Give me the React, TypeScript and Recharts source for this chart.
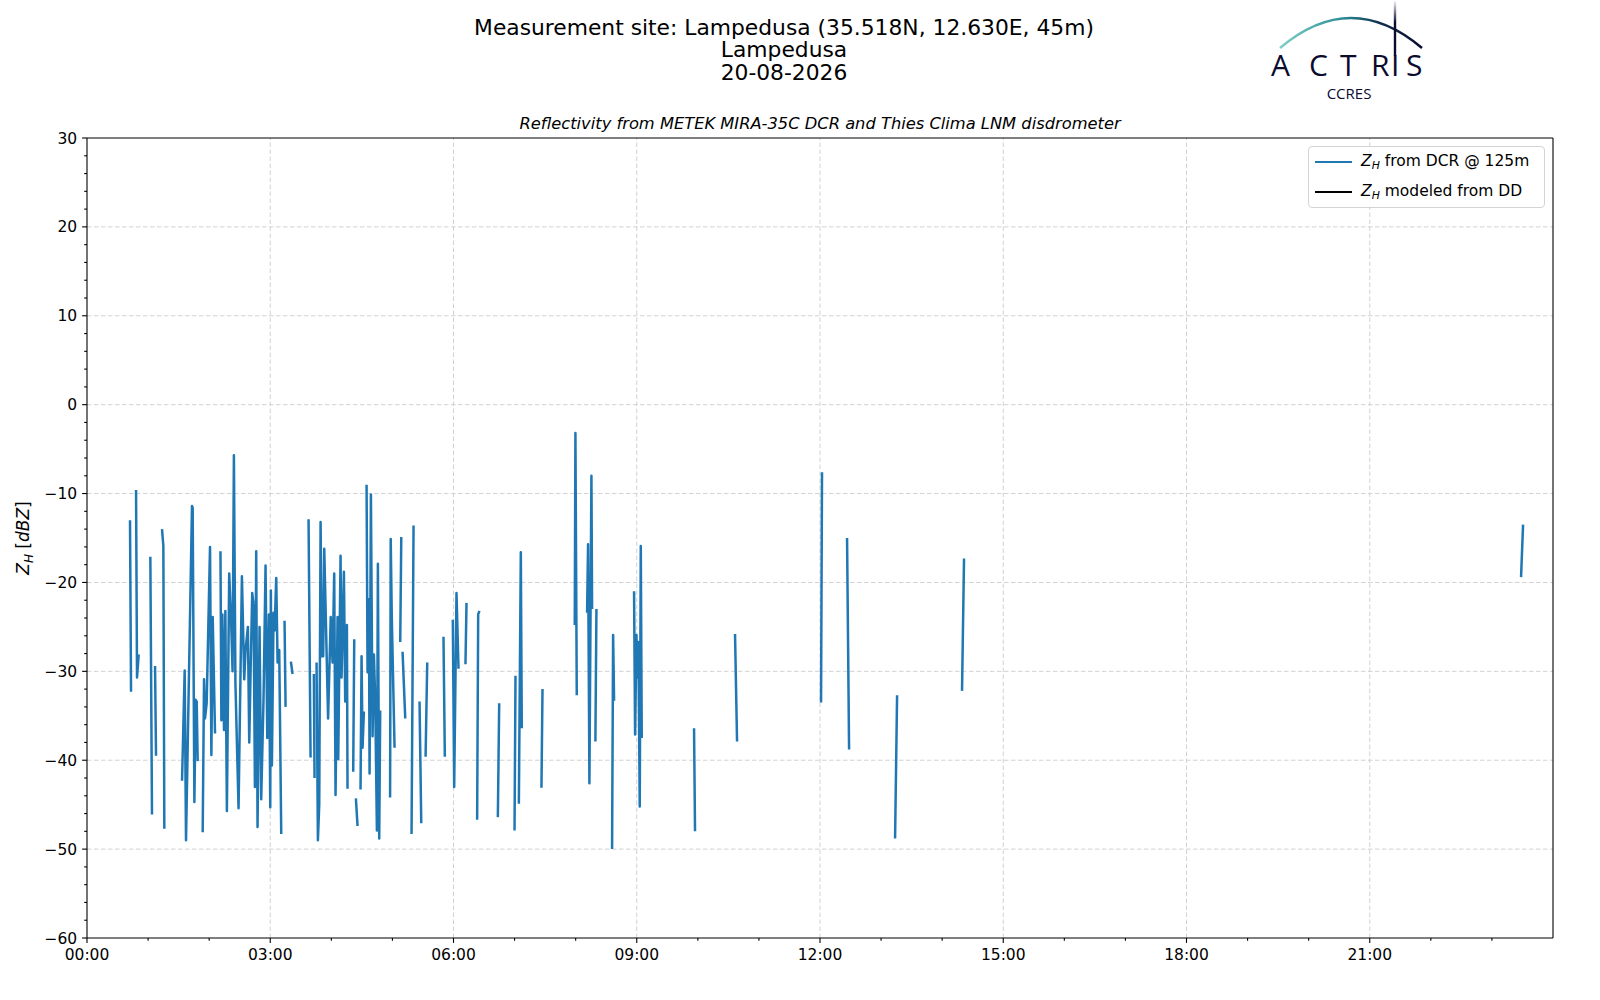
import React from 'react'
import { LineChart, Line, XAxis, YAxis, ReferenceLine } from 'recharts'

// Z_H from the DCR at 125 m. Each run is a stretch of valid samples,
// as [hour of day, dBZ]. Gaps between runs are left open.
const dcrRuns: [number, number][][] = [
  [[0.704, -13.0], [0.721, -32.3]],
  [[0.803, -9.6], [0.819, -30.7], [0.846, -28.1]],
  [[1.037, -17.1], [1.064, -46.1]],
  [[1.114, -29.4], [1.130, -39.5]],
  [[1.228, -14.0], [1.250, -15.9], [1.266, -47.7]],
  [[1.556, -42.3], [1.599, -29.9], [1.621, -49.0], [1.719, -11.4], [1.730, -11.6],
   [1.758, -44.7], [1.779, -33.2], [1.796, -33.4], [1.812, -40.1]],
  [[1.894, -48.1], [1.916, -30.9], [1.932, -35.3], [1.959, -33.6], [2.014, -16.0],
   [2.036, -39.4], [2.058, -23.9], [2.096, -37.0]],
  [[2.185, -16.5], [2.200, -35.5], [2.216, -23.6], [2.243, -36.6], [2.265, -23.2],
   [2.290, -45.7], [2.328, -19.0], [2.361, -24.7], [2.383, -30.0], [2.405, -5.7],
   [2.430, -31.4], [2.454, -38.0], [2.481, -45.4], [2.536, -19.3], [2.574, -30.9],
   [2.596, -27.6], [2.634, -25.0], [2.656, -38.0], [2.678, -30.1], [2.705, -21.2],
   [2.727, -22.5], [2.749, -43.0], [2.770, -16.5], [2.792, -47.5], [2.825, -25.0],
   [2.852, -44.4], [2.890, -33.1], [2.923, -18.1], [2.951, -37.5], [2.978, -23.6],
   [3.000, -45.3], [3.010, -20.9], [3.027, -40.6], [3.054, -23.4], [3.071, -25.4],
   [3.098, -19.5], [3.120, -29.0], [3.147, -27.6], [3.180, -48.3]],
  [[3.234, -24.3], [3.251, -34.0]],
  [[3.338, -28.9], [3.365, -30.3]],
  [[3.627, -12.9], [3.660, -39.7]],
  [[3.714, -30.3], [3.725, -42.0]],
  [[3.758, -29.0], [3.780, -49.0], [3.802, -45.0], [3.824, -13.2], [3.845, -28.3],
   [3.867, -28.3], [3.884, -16.2], [3.947, -35.3], [3.990, -23.9], [4.020, -29.0],
   [4.047, -19.0], [4.069, -43.9], [4.102, -23.9], [4.113, -39.9], [4.151, -17.0],
   [4.167, -30.7], [4.206, -18.8], [4.227, -33.4], [4.255, -24.8], [4.265, -43.2]],
  [[4.358, -41.3], [4.375, -26.4]],
  [[4.402, -44.3], [4.429, -47.4]],
  [[4.478, -43.3], [4.495, -28.3], [4.511, -38.6], [4.533, -34.5]],
  [[4.577, -9.0], [4.593, -30.1], [4.615, -21.9], [4.626, -41.5], [4.648, -10.1],
   [4.675, -37.3], [4.697, -28.1], [4.719, -33.4], [4.746, -47.9], [4.762, -17.9],
   [4.784, -48.8], [4.800, -34.4]],
  [[4.962, -44.2], [4.972, -15.1], [4.990, -24.0], [5.035, -38.6]],
  [[5.128, -26.7], [5.145, -14.9]],
  [[5.166, -27.8], [5.210, -35.3]],
  [[5.313, -48.3], [5.346, -13.6]],
  [[5.444, -33.4], [5.472, -47.1]],
  [[5.543, -39.6], [5.570, -29.0]],
  [[5.836, -26.1], [5.858, -39.6]],
  [[5.989, -24.2], [6.011, -43.0], [6.049, -21.2], [6.082, -29.7]],
  [[6.196, -29.2], [6.213, -22.3]],
  [[6.387, -46.7], [6.404, -23.6], [6.425, -23.2]],
  [[6.726, -46.4], [6.748, -33.6]],
  [[6.999, -47.9], [7.015, -30.5]],
  [[7.070, -44.9], [7.102, -16.6], [7.118, -36.4]],
  [[7.440, -43.1], [7.457, -32.0]],
  [[7.985, -24.8], [7.996, -3.2], [8.018, -32.7]],
  [[8.187, -23.4], [8.203, -15.7], [8.225, -42.6], [8.258, -8.0], [8.269, -23.0]],
  [[8.323, -37.9], [8.340, -23.0]],
  [[8.596, -50.0], [8.613, -25.9], [8.629, -33.3]],
  [[8.956, -21.0], [8.973, -37.1], [8.995, -25.9], [9.011, -30.7], [9.027, -26.7],
   [9.049, -45.2], [9.066, -15.9], [9.082, -37.5]],
  [[9.938, -36.4], [9.954, -48.0]],
  [[10.609, -25.8], [10.642, -37.9]],
  [[12.017, -33.5], [12.033, -7.6]],
  [[12.443, -15.0], [12.476, -38.8]],
  [[13.229, -48.8], [13.262, -32.7]],
  [[14.325, -32.2], [14.358, -17.3]],
  [[23.477, -19.4], [23.510, -13.5]],
]

// Z_H modeled from the disdrometer: nothing valid for this day
const ddRuns: [number, number][][] = []

const hourTicks = [0, 1, 2, 3, 4, 5, 6, 7, 8, 9, 10, 11, 12, 13, 14, 15, 16, 17, 18, 19, 20, 21, 22, 23]
const dbzTicks = [
  30, 28, 26, 24, 22, 20, 18, 16, 14, 12, 10, 8, 6, 4, 2, 0, -2, -4, -6, -8, -10,
  -12, -14, -16, -18, -20, -22, -24, -26, -28, -30, -32, -34, -36, -38, -40, -42,
  -44, -46, -48, -50, -52, -54, -56, -58, -60,
]
const gridHours = [3, 6, 9, 12, 15, 18, 21]
const gridDbz = [20, 10, 0, -10, -20, -30, -40, -50]

const FONT = '"DejaVu Sans", sans-serif'
const BLUE = '#1f77b4'
const NAVY = '#0b0b30'

type Row = { t: number; zh: number | null; dd: number | null }

// flatten the runs, dropping a null row between runs so the line breaks
const rows: Row[] = []
dcrRuns.forEach((run, i) => {
  if (i > 0) {
    const prev = dcrRuns[i - 1]
    rows.push({ t: (prev[prev.length - 1][0] + run[0][0]) / 2, zh: null, dd: null })
  }
  run.forEach(([t, z]) => rows.push({ t, zh: z, dd: null }))
})
ddRuns.forEach(run => run.forEach(([t, z]) => rows.push({ t, zh: null, dd: z })))
rows.sort((a, b) => a.t - b.t)

const fmtDbz = (v: number) => (v < 0 ? `\u2212${Math.abs(v)}` : `${v}`)
const fmtHour = (h: number) => `${String(h).padStart(2, '0')}:00`

const HourTick = ({ x, y, payload }: any) => {
  const h = payload.value
  const major = h % 3 === 0
  const len = major ? 4.9 : 2.8
  return (
    <g>
      <line x1={x} x2={x} y1={y} y2={y + len} stroke="#000" strokeWidth={1.1} />
      {major && (
        <text x={x} y={y + len + 4.9} dy="0.8em" textAnchor="middle"
          fontSize={15.5} fontFamily={FONT} fill="#000">
          {fmtHour(h)}
        </text>
      )}
    </g>
  )
}

const DbzTick = ({ x, y, payload }: any) => {
  const v = payload.value
  const major = v % 10 === 0
  const len = major ? 4.9 : 2.8
  return (
    <g>
      <line x1={x - len} x2={x} y1={y} y2={y} stroke="#000" strokeWidth={1.1} />
      {major && (
        <text x={x - len - 4.9} y={y} dy="0.36em" textAnchor="end"
          fontSize={15.5} fontFamily={FONT} fill="#000">
          {fmtDbz(v)}
        </text>
      )}
    </g>
  )
}

const Zh = () => (
  <>
    <i>Z</i>
    <sub style={{ fontSize: '0.7em', fontStyle: 'italic', verticalAlign: '-0.25em' }}>H</sub>
  </>
)

const legendItems = [
  { color: BLUE, label: 'from DCR @ 125m' },
  { color: '#000', label: 'modeled from DD' },
]

function Overlay() {
  return (
    <svg width={1600} height={1000} style={{ position: 'absolute', left: 0, top: 0, pointerEvents: 'none' }}>
      <defs>
        <linearGradient id="arc" x1="1280" y1="0" x2="1422" y2="0" gradientUnits="userSpaceOnUse">
          <stop offset="0" stopColor="#7fd0c8" />
          <stop offset="0.45" stopColor="#2a8a95" />
          <stop offset="0.7" stopColor="#11304d" />
          <stop offset="1" stopColor={NAVY} />
        </linearGradient>
        <linearGradient id="mast" x1="0" y1="0" x2="0" y2="56" gradientUnits="userSpaceOnUse">
          <stop offset="0" stopColor="#ffffff" />
          <stop offset="0.4" stopColor={NAVY} />
        </linearGradient>
      </defs>
      <path d="M1280,48 Q1351,-12 1422,48" fill="none" stroke="url(#arc)" strokeWidth={2.6} />
      <line x1={1395} x2={1395} y1={1} y2={56} stroke="url(#mast)" strokeWidth={2.4} />
      <text x="1271 1309 1340 1371 1391 1406" y={76} fontSize={30}
        fontFamily='"Open Sans", sans-serif' fill={NAVY}>ACTRIS</text>
      <text x={1349} y={99} fontSize={15} fontFamily='"Open Sans", sans-serif' fill={NAVY}
        textAnchor="middle">CCRES</text>

      <g fontFamily={FONT} fill="#000">
        <text x={784} y={35} fontSize={21.8} textAnchor="middle">
          Measurement site: Lampedusa (35.518N, 12.630E, 45m)
        </text>
        <text x={784} y={57} fontSize={21.8} textAnchor="middle">Lampedusa</text>
        <text x={784} y={80} fontSize={21.8} textAnchor="middle">20-08-2026</text>
        <text x={820} y={129} fontSize={16.3} fontStyle="italic" textAnchor="middle">
          Reflectivity from METEK MIRA-35C DCR and Thies Clima LNM disdrometer
        </text>
        <text transform="translate(29,538) rotate(-90)" fontSize={17} textAnchor="middle">
          <tspan fontStyle="italic">Z</tspan>
          <tspan fontStyle="italic" fontSize={12} dy={4}>H</tspan>
          <tspan dy={-4}> [</tspan>
          <tspan fontStyle="italic">dBZ</tspan>
          <tspan>]</tspan>
        </text>
      </g>
    </svg>
  )
}

export default function App() {
  return (
    <div style={{ position: 'absolute', left: 0, top: 0, width: 1600, height: 1000, background: '#fff' }}>
      <LineChart width={1600} height={1000} data={rows}
        margin={{ top: 138, right: 47, bottom: 32, left: 27 }}>
        {gridHours.map(h => (
          <ReferenceLine key={`gx${h}`} x={h} stroke="#d2d2d2" strokeWidth={1} strokeDasharray="4.5 2.5" />
        ))}
        {gridDbz.map(v => (
          <ReferenceLine key={`gy${v}`} y={v} stroke="#d2d2d2" strokeWidth={1} strokeDasharray="4.5 2.5" />
        ))}
        <XAxis dataKey="t" type="number" domain={[0, 24]} ticks={hourTicks} interval={0}
          allowDataOverflow height={30} tickLine={false} tickSize={0} tickMargin={0}
          axisLine={{ stroke: '#000', strokeWidth: 1.1 }} tick={(p: any) => <HourTick {...p} />} />
        <YAxis type="number" domain={[-60, 30]} ticks={dbzTicks} interval={0}
          allowDataOverflow width={60} tickLine={false} tickSize={0} tickMargin={0}
          axisLine={{ stroke: '#000', strokeWidth: 1.1 }} tick={(p: any) => <DbzTick {...p} />} />
        <Line dataKey="zh" name="Z_H from DCR @ 125m" stroke={BLUE} strokeWidth={2.5}
          dot={false} activeDot={false} connectNulls={false} isAnimationActive={false}
          strokeLinejoin="round" />
        <Line dataKey="dd" name="Z_H modeled from DD" stroke="#000" strokeWidth={2.5}
          dot={false} activeDot={false} connectNulls={false} isAnimationActive={false} />
        <ReferenceLine y={30} stroke="#000" strokeWidth={1.1} />
        <ReferenceLine x={24} stroke="#000" strokeWidth={1.1} />
      </LineChart>

      <Overlay />

      <div style={{
        position: 'absolute', left: 1308, top: 146, width: 237, height: 62, boxSizing: 'border-box',
        border: '1px solid #d4d4d4', borderRadius: 4, background: 'rgba(255,255,255,0.8)',
        fontFamily: FONT, fontSize: 15.5, color: '#000',
      }}>
        {legendItems.map((it, i) => (
          <div key={i} style={{ position: 'absolute', left: 6, top: 3 + i * 30, height: 24, display: 'flex', alignItems: 'center' }}>
            <span style={{ display: 'inline-block', width: 37, height: 2.5, background: it.color, marginRight: 9 }} />
            <span style={{ whiteSpace: 'nowrap' }}><Zh /> {it.label}</span>
          </div>
        ))}
      </div>
    </div>
  )
}
